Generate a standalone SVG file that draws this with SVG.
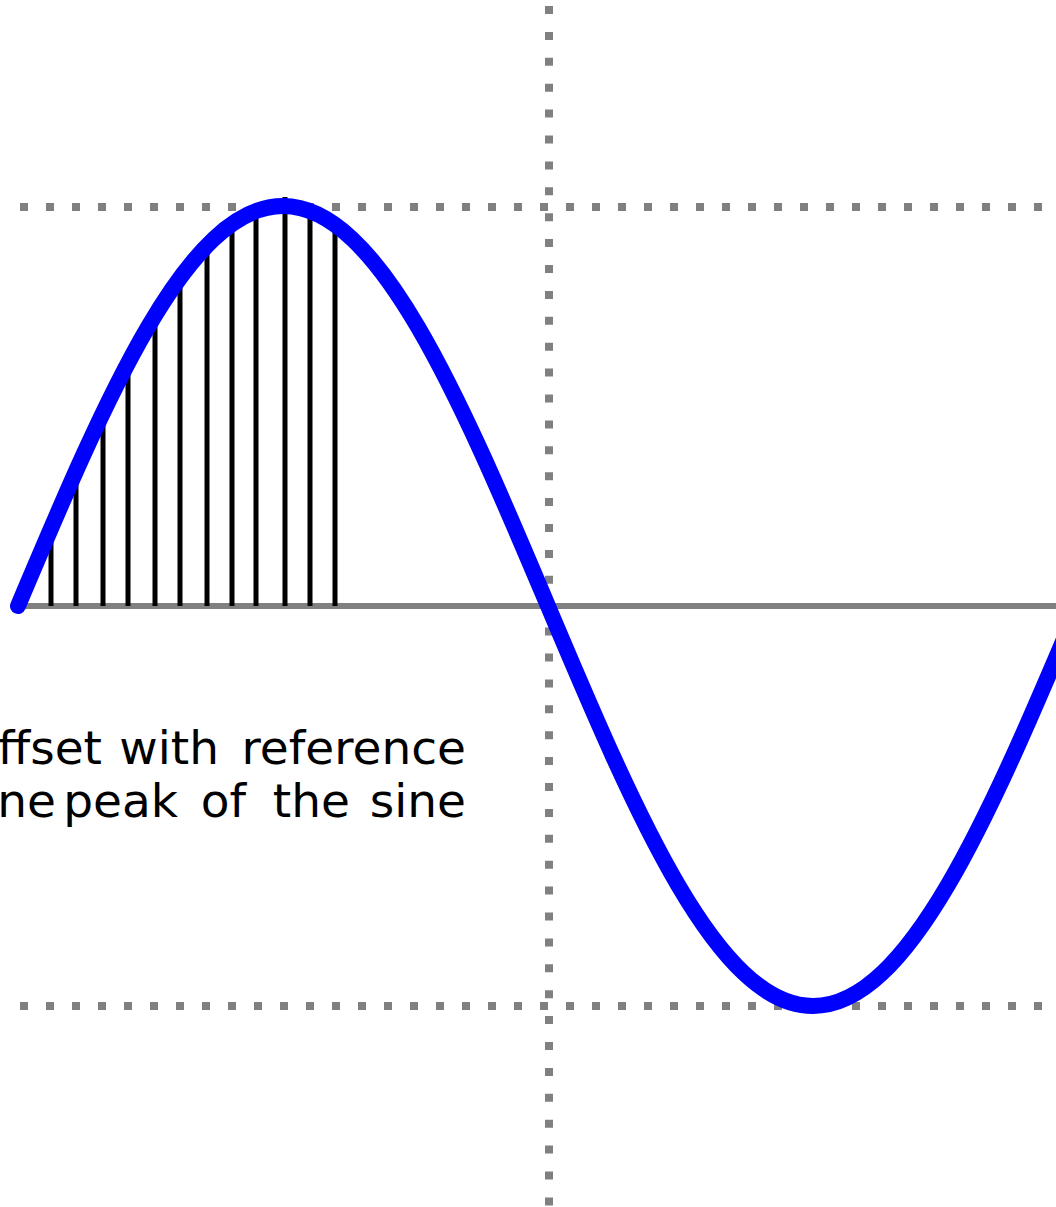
<svg xmlns="http://www.w3.org/2000/svg" width="1056" height="1207" viewBox="0 0 1056 1207">
<style>
.dot{stroke:#808080;stroke-width:8;fill:none}
.hdot{stroke-dasharray:8 18}
.vdot{stroke-dasharray:8 17.9}
.axis{stroke:#808080;stroke-width:6;fill:none}
.sine{stroke:#0000ff;stroke-width:16;fill:none;stroke-linecap:round;stroke-linejoin:round}
.bar{stroke:#000;stroke-width:5}
.lbl{font-family:"DejaVu Sans",sans-serif;font-size:47px;fill:#000}
</style>
<rect width="1056" height="1207" fill="#fff"/>
<g id="grid">
<line class="dot hdot" x1="20" y1="207" x2="1056" y2="207"/>
<line class="dot hdot" x1="20" y1="1006" x2="1056" y2="1006"/>
<line class="dot vdot" x1="549" y1="6" x2="549" y2="1207"/>
</g>
<g id="axis">
<line class="axis" x1="18" y1="606" x2="1056" y2="606"/>
</g>
<g id="samples">
<line class="bar" x1="51" y1="606" x2="51" y2="528"/>
<line class="bar" x1="76" y1="606" x2="76" y2="470"/>
<line class="bar" x1="103" y1="606" x2="103" y2="412"/>
<line class="bar" x1="128" y1="606" x2="128" y2="355"/>
<line class="bar" x1="155" y1="606" x2="155" y2="317"/>
<line class="bar" x1="180" y1="606" x2="180" y2="278"/>
<line class="bar" x1="207" y1="606" x2="207" y2="240"/>
<line class="bar" x1="232" y1="606" x2="232" y2="221"/>
<line class="bar" x1="256" y1="606" x2="256" y2="205"/>
<line class="bar" x1="285" y1="606" x2="285" y2="197"/>
<line class="bar" x1="310" y1="606" x2="310" y2="209"/>
<line class="bar" x1="335" y1="606" x2="335" y2="221"/>
</g>
<g id="sine">
<path class="sine" d="M18,606 C106.6,396 187.5,206 283,206 S459.4,396 548,606 S717.5,1006 813,1006 S989.4,816 1078,606"/>
</g>
<g id="label">
<text class="lbl" text-anchor="end"><tspan x="102" y="764">ffset</tspan><tspan x="219" y="764">with</tspan><tspan x="466" y="764">reference</tspan><tspan x="56" y="817">ne</tspan><tspan x="178" y="817">peak</tspan><tspan x="246" y="817">of</tspan><tspan x="350" y="817">the</tspan><tspan x="466" y="817">sine</tspan></text>
</g>
</svg>
